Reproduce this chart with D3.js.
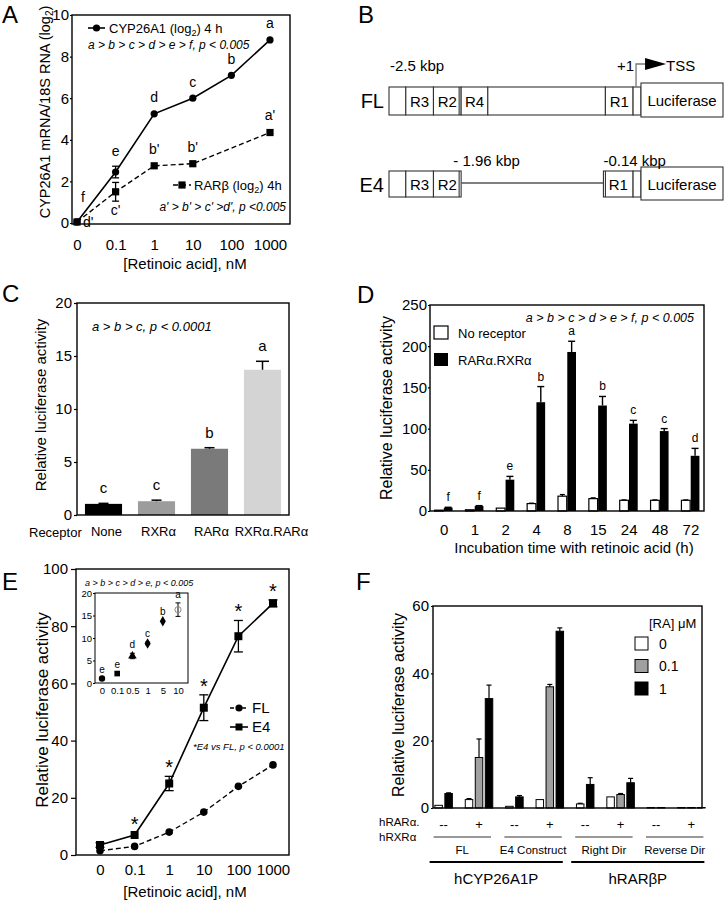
<!DOCTYPE html>
<html><head><meta charset="utf-8">
<script src="https://cdn.jsdelivr.net/npm/d3@7"></script>
<style>body{margin:0;background:#fff} svg{display:block}</style>
</head><body><svg id="c" width="724" height="900"></svg>
<script>
// ---------------- DATA ----------------
// Panel A
const aDoses = ["0","0.1","1","10","100","1000"];
const aCyp = [0.05, 2.45, 5.25, 6.0, 7.1, 8.8];
const aCypErr = [0.08, 0.28, 0.08, 0.08, 0.08, 0.1];
const aCypLetters = ["f","e","d","c","b","a"];
const aRar = [0.05, 1.5, 2.75, 2.85, null, 4.35];
const aRarErr = [0.08, 0.45, 0.08, 0.08, null, 0.12];
const aRarLetters = ["d'","c'","b'","b'","","a'"];
const aYTicks = [0,2,4,6,8,10];
// Panel B (schematic positions, kbp)
const bFLBounds = [-2.5, -2.33, -2.05, -1.77, -1.5, -0.31, -0.03, 0.05];
const bFLLabels = ["", "R3", "R2", "R4", "", "R1", ""];
const bE4LeftBounds = [-2.5, -2.33, -2.05, -1.77];
const bE4LeftLabels = ["", "R3", "R2"];
const bE4RightBounds = [-0.33, -0.03, 0.05];
const bE4RightLabels = ["R1", ""];
const bLuc = [0.05, 0.88];
// Panel C
const cReceptors = ["None","RXRα","RARα","RXRα.RARα"];
const cVals = [1.05, 1.3, 6.25, 13.7];
const cErr = [0.05, 0.1, 0.1, 0.8];
const cLetters = ["c","c","b","a"];
const cYTicks = [0,5,10,15,20];
// Panel D
const dTimes = ["0","1","2","4","8","15","24","48","72"];
const dNoRec = [1, 1.5, 3.5, 9, 18, 15, 13, 13, 13];
const dNoRecErr = [0, 0, 0.3, 0.5, 2, 1, 0.5, 0.5, 0.5];
const dRar = [4, 6, 38, 132, 193, 128, 106, 97, 67];
const dRarErr = [0.5, 0.5, 4, 19, 13, 11, 4, 3, 9];
const dLetters = ["f","f","e","b","a","b","c","c","d"];
const dYTicks = [0,50,100,150,200,250];
// Panel E
const eDoses = ["0","0.1","1","10","100","1000"];
const eFL = [1.5, 3, 8, 15, 24, 31.5];
const eFLErr = [0.5, 0.3, 0.3, 0.3, 0.3, 0.4];
const eE4 = [3.5, 7, 25, 51.5, 76.5, 88];
const eE4Err = [0.8, 0.6, 2.5, 4.5, 5.5, 1.2];
const eStar = [false, true, true, true, true, true];
const eYTicks = [0,20,40,60,80,100];
const eInsetDoses = ["0","0.1","0.5","1","5","10"];
const eInsetVals = [1.0, 2.1, 6.0, 8.8, 13.7, 16.3];
const eInsetErr = [0.1, 0.2, 0.6, 0.3, 0.2, 1.5];
const eInsetLetters = ["e","e","d","c","b","a"];
const eInsetYTicks = [0,5,10,15,20];
// Panel F
const fGroups = ["FL-","FL+","E4-","E4+","RD-","RD+","RV-","RV+"];
const fSigns = ["--","+","--","+","--","+","--","+"];
const fDoseLabels = ["0","0.1","1"];
const fRA0 = [0.8, 2.5, 0.5, 2.5, 1.2, 3.3, 0.15, 0.15];
const fRA0Err = [0.1, 0.3, 0.1, 0.1, 0.2, 0.1, 0, 0];
const fRA01 = [null, 15, null, 36, null, 4.0, null, 0.15];
const fRA01Err = [null, 5.5, null, 0.7, null, 0.3, null, 0];
const fRA1 = [4.3, 32.5, 3.3, 52.5, 7.0, 7.5, 0.15, 0.15];
const fRA1Err = [0.2, 4, 0.4, 1, 2, 1.3, 0, 0];
const fSubsets = [["FL",0,1],["E4 Construct",2,3],["Right Dir",4,5],["Reverse Dir",6,7]];
const fSets = [["hCYP26A1P",0,3],["hRARβP",4,7]];
const fYTicks = [0,20,40,60];

// ---------------- HELPERS ----------------
const FONT = "'Liberation Sans', Arial, Helvetica, sans-serif";
const svg = d3.select("#c");
svg.append("rect").attr("width",724).attr("height",900).attr("fill","#fff");

function text(g, x, y, s, size, o = {}) {
  const t = g.append("text").attr("x", x).attr("y", y).text(s)
    .attr("font-family", FONT).attr("font-size", size).attr("fill", o.fill || "#000")
    .attr("text-anchor", o.anchor || "start");
  if (o.italic) t.attr("font-style", "italic");
  if (o.rotate) t.attr("transform", `rotate(-90,${x},${y})`);
  return t;
}
function frame(g, x0, y0, x1, y1, w = 1.4) {
  g.append("rect").attr("x", x0).attr("y", y0).attr("width", x1 - x0).attr("height", y1 - y0)
    .attr("fill", "none").attr("stroke", "#000").attr("stroke-width", w);
}
function yAxis(g, scale, x, ticks, size, tick, pad) {
  const ax = g.append("g").attr("transform", `translate(${x},0)`)
    .call(d3.axisLeft(scale).tickValues(ticks).tickSize(tick).tickPadding(pad).tickFormat(d3.format("d")));
  ax.select(".domain").remove();
  ax.selectAll("text").attr("font-family", FONT).attr("font-size", size).attr("fill", "#000");
  ax.selectAll("line").attr("stroke", "#000").attr("stroke-width", 1.2);
  return ax;
}
function xAxis(g, scale, y, size, pad) {
  const ax = g.append("g").attr("transform", `translate(0,${y})`)
    .call(d3.axisBottom(scale).tickSize(0).tickPadding(pad));
  ax.select(".domain").remove();
  ax.selectAll("text").attr("font-family", FONT).attr("font-size", size).attr("fill", "#000");
  return ax;
}
function errBar(g, x, yLo, yHi, cap, both, w = 1.3) {
  g.append("line").attr("x1", x).attr("x2", x).attr("y1", yLo).attr("y2", yHi).attr("stroke", "#000").attr("stroke-width", w);
  g.append("line").attr("x1", x - cap / 2).attr("x2", x + cap / 2).attr("y1", yHi).attr("y2", yHi).attr("stroke", "#000").attr("stroke-width", w);
  if (both) g.append("line").attr("x1", x - cap / 2).attr("x2", x + cap / 2).attr("y1", yLo).attr("y2", yLo).attr("stroke", "#000").attr("stroke-width", w);
}
function panelLetter(x, y, s) { text(svg, x, y, s, 24); }

// ---------------- PANEL A ----------------
(function () {
  const g = svg.append("g");
  const x = d3.scalePoint().domain(aDoses).range([77, 270]);
  const y = d3.scaleLinear().domain([0, 10]).range([223, 15]);
  frame(g, 72, 15, 290, 224);
  yAxis(g, y, 72, aYTicks, 15, 2, 1);
  xAxis(g, x, 224, 15, 15);
  const cyp = aDoses.map((d, i) => ({ d, v: aCyp[i], e: aCypErr[i], l: aCypLetters[i], i }));
  const rar = aDoses.map((d, i) => ({ d, v: aRar[i], e: aRarErr[i], l: aRarLetters[i], i })).filter(p => p.v != null);
  const line = d3.line().x(p => x(p.d)).y(p => y(p.v));
  g.append("path").attr("d", line(rar)).attr("fill", "none").attr("stroke", "#000").attr("stroke-width", 1.4).attr("stroke-dasharray", "5,3");
  g.append("path").attr("d", line(cyp)).attr("fill", "none").attr("stroke", "#000").attr("stroke-width", 1.6);
  [...cyp, ...rar].forEach(p => { if (p.e > 0.15) errBar(g, x(p.d), y(p.v - p.e), y(p.v + p.e), 7, true); });
  cyp.forEach(p => g.append("circle").attr("cx", x(p.d)).attr("cy", y(p.v)).attr("r", 3.6).attr("fill", "#000"));
  rar.forEach(p => g.append("rect").attr("x", x(p.d) - 3.6).attr("y", y(p.v) - 3.6).attr("width", 7.2).attr("height", 7.2).attr("fill", "#000"));
  cyp.forEach(p => {
    if (p.i === 0) text(g, x(p.d) + 6, y(p.v) - 20, p.l, 14, { anchor: "middle" });
    else text(g, x(p.d), y(p.v + p.e) - 10, p.l, 14, { anchor: "middle" });
  });
  rar.forEach(p => {
    if (!p.l) return;
    if (p.i === 0) text(g, x(p.d) + 6, y(p.v) + 5, p.l, 14);
    else if (p.i === 1) text(g, x(p.d), y(p.v - p.e) + 14, p.l, 14, { anchor: "middle" });
    else text(g, x(p.d), y(p.v + p.e) - 10, p.l, 14, { anchor: "middle" });
  });
  // legend
  g.append("line").attr("x1", 88).attr("x2", 105).attr("y1", 28).attr("y2", 28).attr("stroke", "#000").attr("stroke-width", 1.6);
  g.append("circle").attr("cx", 96.5).attr("cy", 28).attr("r", 3.6).attr("fill", "#000");
  const t1 = text(g, 109, 33, "CYP26A1 (log", 13);
  t1.append("tspan").text("2").attr("font-size", 9).attr("dy", 3);
  t1.append("tspan").text(") 4 h").attr("dy", -3);
  text(g, 88, 49, "a > b > c > d > e > f, p < 0.005", 12, { italic: true });
  g.append("line").attr("x1", 173).attr("x2", 191).attr("y1", 185).attr("y2", 185).attr("stroke", "#000").attr("stroke-width", 1.4).attr("stroke-dasharray", "5,3");
  g.append("rect").attr("x", 178.4).attr("y", 181.4).attr("width", 7.2).attr("height", 7.2).attr("fill", "#000");
  const t2 = text(g, 194, 190, "RARβ (log", 13);
  t2.append("tspan").text("2").attr("font-size", 9).attr("dy", 3);
  t2.append("tspan").text(") 4h").attr("dy", -3);
  text(g, 286, 211, "a' > b' > c' >d', p <0.005", 12, { italic: true, anchor: "end" });
  // titles
  const yt = text(g, 50, 112, "CYP26A1 mRNA/18S RNA (log", 14.5, { anchor: "middle", rotate: true });
  yt.append("tspan").text("2").attr("font-size", 10).attr("dy", 3);
  yt.append("tspan").text(")").attr("dy", -3);
  text(g, 185, 269, "[Retinoic acid], nM", 15, { anchor: "middle" });
  panelLetter(2, 23, "A");
})();

// ---------------- PANEL B ----------------
(function () {
  const g = svg.append("g");
  const x = d3.scaleLinear().domain([bFLBounds[0], bLuc[1]]).range([389, 723]);
  const stroke = "#333";
  function segs(bounds, labels, y0, y1) {
    for (let i = 0; i < bounds.length - 1; i++) {
      g.append("rect").attr("x", x(bounds[i])).attr("y", y0).attr("width", x(bounds[i + 1]) - x(bounds[i])).attr("height", y1 - y0)
        .attr("fill", "#fff").attr("stroke", stroke).attr("stroke-width", 1.1);
      if (labels[i]) text(g, (x(bounds[i]) + x(bounds[i + 1])) / 2, (y0 + y1) / 2 + 5.5, labels[i], 15, { anchor: "middle" });
    }
  }
  function dbl(xv, y0, y1, off) {
    g.append("line").attr("x1", xv + off).attr("x2", xv + off).attr("y1", y0).attr("y2", y1).attr("stroke", stroke).attr("stroke-width", 1.1);
  }
  // FL
  segs(bFLBounds, bFLLabels, 87, 115);
  dbl(x(bFLBounds[3]), 87, 115, -2);
  g.append("rect").attr("x", x(bLuc[0])).attr("y", 83).attr("width", x(bLuc[1]) - x(bLuc[0])).attr("height", 34)
    .attr("fill", "#fff").attr("stroke", stroke).attr("stroke-width", 1.1);
  text(g, (x(bLuc[0]) + x(bLuc[1])) / 2, 106, "Luciferase", 15, { anchor: "middle" });
  text(g, 384, 108, "FL", 20, { anchor: "end" });
  text(g, x(bFLBounds[0]) + 1, 71, "-2.5 kbp", 15);
  text(g, x(0) - 2, 71, "+1", 15, { anchor: "end" });
  g.append("path").attr("d", `M${x(0)},87 V64 H${x(0) + 9}`).attr("fill", "none").attr("stroke", "#777").attr("stroke-width", 1.3);
  g.append("path").attr("d", `M${x(0) + 9},58 L${x(0) + 30},64 L${x(0) + 9},70 Z`).attr("fill", "#000");
  text(g, x(0) + 30, 71, "TSS", 15);
  // E4
  segs(bE4LeftBounds, bE4LeftLabels, 171, 197);
  dbl(x(bE4LeftBounds[3]), 171, 197, -2);
  g.append("line").attr("x1", x(bE4LeftBounds[3])).attr("x2", x(bE4RightBounds[0])).attr("y1", 183).attr("y2", 183).attr("stroke", "#555").attr("stroke-width", 1.3);
  segs(bE4RightBounds, bE4RightLabels, 171, 197);
  dbl(x(bE4RightBounds[0]), 171, 197, 2);
  g.append("rect").attr("x", x(bLuc[0])).attr("y", 167).attr("width", x(bLuc[1]) - x(bLuc[0])).attr("height", 33)
    .attr("fill", "#fff").attr("stroke", stroke).attr("stroke-width", 1.1);
  text(g, (x(bLuc[0]) + x(bLuc[1])) / 2, 190, "Luciferase", 15, { anchor: "middle" });
  text(g, 384, 192, "E4", 20, { anchor: "end" });
  text(g, x(-1.85), 166, "- 1.96 kbp", 15);
  text(g, x(bE4RightBounds[0]), 166, "-0.14 kbp", 15);
  panelLetter(358, 23, "B");
})();

// ---------------- PANEL C ----------------
(function () {
  const g = svg.append("g");
  const x = d3.scaleBand().domain(cReceptors).range([77, 289]).paddingInner(0.3).paddingOuter(0.15);
  const y = d3.scaleLinear().domain([0, 20]).range([515, 303]);
  const col = d3.scaleOrdinal().domain(cReceptors).range(["#000", "#9c9c9c", "#7a7a7a", "#d4d4d4"]);
  cReceptors.forEach((c, i) => {
    g.append("rect").attr("x", x(c)).attr("y", y(cVals[i])).attr("width", x.bandwidth()).attr("height", y(0) - y(cVals[i])).attr("fill", col(c));
    const cx = x(c) + x.bandwidth() / 2;
    errBar(g, cx, y(cVals[i]), y(cVals[i] + cErr[i]), i === 3 ? 13 : 10, false, 1.5);
    text(g, cx, y(cVals[i] + cErr[i]) - 10, cLetters[i], 15, { anchor: "middle" });
  });
  frame(g, 77, 303, 289, 515);
  yAxis(g, y, 77, cYTicks, 15, 3, 2);
  const xa = xAxis(g, x, 515, 13, 12);
  xa.selectAll("text").attr("dx", (d, i) => [3, 2, 2, 9][i]);
  text(g, 29, 537, "Receptor", 13);
  text(g, 92, 331, "a > b > c, p < 0.0001", 13, { italic: true });
  text(g, 46, 405, "Relative luciferase activity", 15, { anchor: "middle", rotate: true });
  panelLetter(2, 302, "C");
})();

// ---------------- PANEL D ----------------
(function () {
  const g = svg.append("g");
  const x = d3.scalePoint().domain(dTimes).range([430, 704]).padding(0.44);
  const inner = d3.scaleBand().domain(["none", "rar"]).range([-9, 9]).paddingInner(0.06);
  const y = d3.scaleLinear().domain([0, 250]).range([511, 305]);
  dTimes.forEach((t, i) => {
    const cx = x(t);
    g.append("rect").attr("x", cx + inner("none")).attr("y", y(dNoRec[i])).attr("width", inner.bandwidth()).attr("height", y(0) - y(dNoRec[i]))
      .attr("fill", "#fff").attr("stroke", "#000").attr("stroke-width", 1.2);
    if (dNoRecErr[i] > 0.4) errBar(g, cx + inner("none") + inner.bandwidth() / 2, y(dNoRec[i]), y(dNoRec[i] + dNoRecErr[i]), 5, false, 1.2);
    g.append("rect").attr("x", cx + inner("rar")).attr("y", y(dRar[i])).attr("width", inner.bandwidth()).attr("height", y(0) - y(dRar[i])).attr("fill", "#000");
    const bx = cx + inner("rar") + inner.bandwidth() / 2;
    errBar(g, bx, y(dRar[i]), y(dRar[i] + dRarErr[i]), 7, false, 1.4);
    text(g, bx, y(dRar[i] + dRarErr[i]) - 6, dLetters[i], 12, { anchor: "middle" });
  });
  frame(g, 430, 305, 704, 511);
  yAxis(g, y, 430, dYTicks, 15, 2, 1);
  xAxis(g, x, 511, 15, 13);
  text(g, 574, 553, "Incubation time with retinoic acid (h)", 15, { anchor: "middle" });
  text(g, 392, 408, "Relative luciferase activity", 16, { anchor: "middle", rotate: true });
  text(g, 694, 322, "a > b > c > d > e > f, p < 0.005", 12.5, { italic: true, anchor: "end" });
  g.append("rect").attr("x", 434).attr("y", 326).attr("width", 14).attr("height", 13).attr("fill", "#fff").attr("stroke", "#000").attr("stroke-width", 1.2);
  text(g, 458, 338, "No receptor", 13);
  g.append("rect").attr("x", 434).attr("y", 353).attr("width", 14).attr("height", 13).attr("fill", "#000");
  text(g, 458, 365, "RARα.RXRα", 13);
  panelLetter(357, 303, "D");
})();

// ---------------- PANEL E ----------------
(function () {
  const g = svg.append("g");
  const x = d3.scalePoint().domain(eDoses).range([100, 273]);
  const y = d3.scaleLinear().domain([0, 100]).range([855, 569]);
  frame(g, 76, 569, 289, 855);
  yAxis(g, y, 76, eYTicks, 15, 5, 3);
  xAxis(g, x, 855, 15, 9);
  const fl = eDoses.map((d, i) => ({ d, v: eFL[i], e: eFLErr[i] }));
  const e4 = eDoses.map((d, i) => ({ d, v: eE4[i], e: eE4Err[i], s: eStar[i] }));
  const line = d3.line().x(p => x(p.d)).y(p => y(p.v));
  g.append("path").attr("d", line(fl)).attr("fill", "none").attr("stroke", "#000").attr("stroke-width", 1.4).attr("stroke-dasharray", "5,3");
  g.append("path").attr("d", line(e4)).attr("fill", "none").attr("stroke", "#000").attr("stroke-width", 1.6);
  e4.forEach(p => { if (p.e > 0.7) errBar(g, x(p.d), y(p.v - p.e), y(p.v + p.e), 9, true, 1.3); });
  fl.forEach(p => g.append("circle").attr("cx", x(p.d)).attr("cy", y(p.v)).attr("r", 3.8).attr("fill", "#000"));
  e4.forEach(p => g.append("rect").attr("x", x(p.d) - 4).attr("y", y(p.v) - 4).attr("width", 8).attr("height", 8).attr("fill", "#000"));
  e4.forEach(p => { if (p.s) text(g, x(p.d), y(p.v + p.e) - 2, "*", 20, { anchor: "middle" }); });
  // legend
  g.append("line").attr("x1", 230).attr("x2", 248).attr("y1", 708).attr("y2", 708).attr("stroke", "#000").attr("stroke-width", 1.4).attr("stroke-dasharray", "4,2");
  g.append("circle").attr("cx", 239).attr("cy", 708).attr("r", 3.6).attr("fill", "#000");
  text(g, 252, 713, "FL", 15);
  g.append("line").attr("x1", 230).attr("x2", 248).attr("y1", 727).attr("y2", 727).attr("stroke", "#000").attr("stroke-width", 1.6);
  g.append("rect").attr("x", 235.5).attr("y", 723.5).attr("width", 7).attr("height", 7).attr("fill", "#000");
  text(g, 252, 732, "E4", 15);
  text(g, 193, 750, "*E4 vs FL, p < 0.0001", 9.5, { italic: true });
  text(g, 185, 897, "[Retinoic acid], nM", 15, { anchor: "middle" });
  text(g, 48, 710, "Relative luciferase activity", 17, { anchor: "middle", rotate: true });
  // inset
  const xi = d3.scalePoint().domain(eInsetDoses).range([102, 178]);
  const yi = d3.scaleLinear().domain([0, 20]).range([683, 593]);
  frame(g, 95, 593, 188, 683, 1);
  yAxis(g, yi, 95, eInsetYTicks, 9.5, 2, 1);
  xAxis(g, xi, 683, 9.5, 4);
  const syms = [d3.symbolCircle, d3.symbolSquare, d3.symbolTriangle, d3.symbolDiamond, d3.symbolDiamond, d3.symbolCircle];
  eInsetDoses.forEach((d, i) => {
    const v = eInsetVals[i], e = eInsetErr[i];
    if (e > 0.25) errBar(g, xi(d), yi(v - e), yi(v + e), 5, true, 1);
    const last = i === eInsetDoses.length - 1;
    g.append("path").attr("d", d3.symbol().type(syms[i]).size(last ? 30 : 32)())
      .attr("transform", `translate(${xi(d)},${yi(v)})`)
      .attr("fill", last ? "none" : "#000").attr("stroke", last ? "#888" : "none").attr("stroke-width", 1);
    text(g, xi(d), yi(v + e) - 5, eInsetLetters[i], 10, { anchor: "middle" });
  });
  text(g, 85, 586, "a > b > c > d > e, p < 0.005", 9, { italic: true });
  panelLetter(2, 590, "E");
})();

// ---------------- PANEL F ----------------
(function () {
  const g = svg.append("g");
  const x = d3.scalePoint().domain(fGroups).range([433, 702]).padding(0.3);
  const y = d3.scaleLinear().domain([0, 60]).range([808, 606]);
  const fills = ["#fff", "#a0a0a0", "#000"];
  const vals = [fRA0, fRA01, fRA1], errs = [fRA0Err, fRA01Err, fRA1Err];
  fGroups.forEach((grp, i) => {
    const present = [0, 1, 2].filter(k => vals[k][i] != null);
    const n = present.length;
    const inner = d3.scaleBand().domain(d3.range(n)).range([-n * 5, n * 5]).paddingInner(0.25).paddingOuter(0.125);
    present.forEach((k, j) => {
      const v = vals[k][i], e = errs[k][i];
      const bx = x(grp) + inner(j);
      g.append("rect").attr("x", bx).attr("y", y(v)).attr("width", inner.bandwidth()).attr("height", y(0) - y(v))
        .attr("fill", fills[k]).attr("stroke", "#000").attr("stroke-width", 1);
      if (e > 0.15) errBar(g, bx + inner.bandwidth() / 2, y(v), y(v + e), 5, false, 1.2);
    });
    text(g, x(grp), 829, fSigns[i], 13, { anchor: "middle" });
  });
  frame(g, 433, 606, 702, 808);
  yAxis(g, y, 433, fYTicks, 15, 2, 2);
  text(g, 404, 705, "Relative luciferase activity", 16, { anchor: "middle", rotate: true });
  // legend
  text(g, 649, 628, "[RA] μM", 13);
  fDoseLabels.forEach((l, k) => {
    const yy = 637 + k * 22.5;
    g.append("rect").attr("x", 635).attr("y", yy).attr("width", 13).attr("height", 13).attr("fill", fills[k]).attr("stroke", "#000").attr("stroke-width", 1);
    text(g, 659, yy + 11.5, l, 14);
  });
  text(g, 379, 826, "hRARα.", 11.5);
  text(g, 379, 841, "hRXRα", 11.5);
  fSubsets.forEach(([lab, a, b]) => {
    const x0 = x(fGroups[a]) - 10, x1 = x(fGroups[b]) + 12;
    g.append("line").attr("x1", x0).attr("x2", x1).attr("y1", 837).attr("y2", 837).attr("stroke", "#333").attr("stroke-width", 1);
    text(g, (x0 + x1) / 2, 854, lab, 11.5, { anchor: "middle" });
  });
  fSets.forEach(([lab, a, b]) => {
    const x0 = x(fGroups[a]) - 14, x1 = x(fGroups[b]) + 13;
    g.append("line").attr("x1", x0).attr("x2", x1).attr("y1", 862).attr("y2", 862).attr("stroke", "#000").attr("stroke-width", 1.8);
    text(g, (x0 + x1) / 2, 884, lab, 15, { anchor: "middle" });
  });
  panelLetter(356, 590, "F");
})();
</script></body></html>
